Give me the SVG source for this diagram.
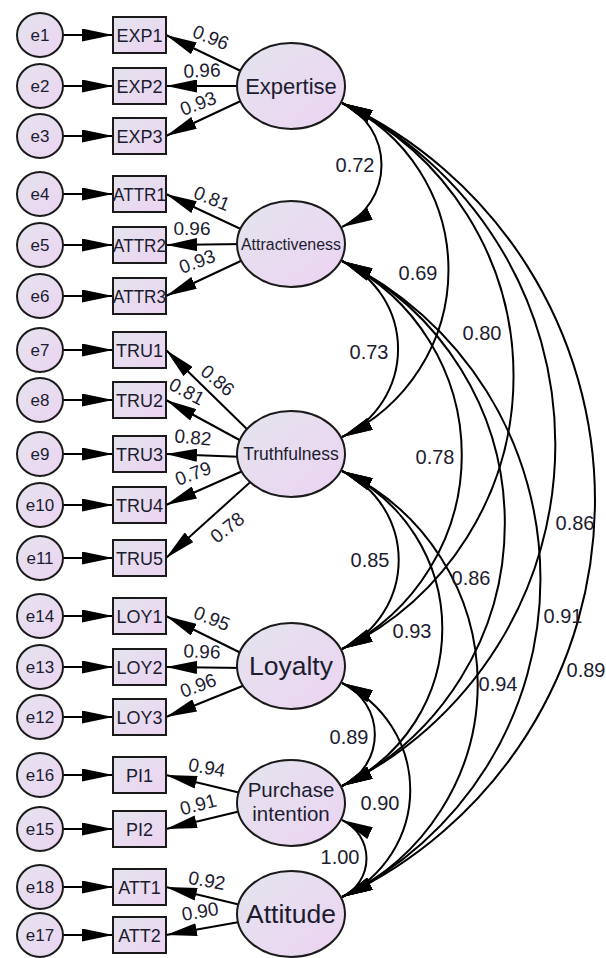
<svg xmlns="http://www.w3.org/2000/svg" width="606" height="958" viewBox="0 0 606 958">
<defs>
<linearGradient id="g" x1="0" y1="0" x2="1" y2="1">
<stop offset="0" stop-color="#e4e4ed"/>
<stop offset="1" stop-color="#ecd3f2"/>
</linearGradient>
<marker id="ah" viewBox="0 0 31 13" refX="31" refY="6.5" markerWidth="31" markerHeight="13" markerUnits="userSpaceOnUse" orient="auto-start-reverse">
<path d="M0,0 L31,6.5 L0,13 z" fill="#000"/>
</marker>
<style>
.n ellipse, .n rect { fill: url(#g); stroke: #1a1a1a; stroke-width: 2; }
.c path { stroke: #000; stroke-width: 2; fill: none; }
.c .l { marker-end: url(#ah); }
.c .a { marker-start: url(#ah); marker-end: url(#ah); }
text { font-family: "Liberation Sans", Arial, sans-serif; fill: #1c1c30; text-anchor: middle; }
.et { font-size: 17px; }
.bt { font-size: 18px; }
.lb { font-size: 19px; }
.cv { font-size: 20px; }
</style>
</defs>
<rect width="606" height="958" fill="#fff"/>

<g id="connectors" class="c">
<!-- error to indicator -->
<path class="l" d="M63 35 L113 35"/>
<path class="l" d="M63 86 L113 86"/>
<path class="l" d="M63 136 L113 136"/>
<path class="l" d="M63 194 L113 194"/>
<path class="l" d="M63 245 L113 245"/>
<path class="l" d="M63 296 L113 296"/>
<path class="l" d="M63 350 L113 350"/>
<path class="l" d="M63 400 L113 400"/>
<path class="l" d="M63 454 L113 454"/>
<path class="l" d="M63 505 L113 505"/>
<path class="l" d="M63 558 L113 558"/>
<path class="l" d="M63 616 L113 616"/>
<path class="l" d="M63 667 L113 667"/>
<path class="l" d="M63 717 L113 717"/>
<path class="l" d="M63 775 L113 775"/>
<path class="l" d="M63 829 L113 829"/>
<path class="l" d="M63 887 L113 887"/>
<path class="l" d="M63 935 L113 935"/>
<!-- loadings -->
<path class="l" d="M245 73 L166 35"/>
<path class="l" d="M245 86 L166 86"/>
<path class="l" d="M245 99 L166 136"/>
<path class="l" d="M245 231 L166 194"/>
<path class="l" d="M245 244 L166 245"/>
<path class="l" d="M245 259 L166 296"/>
<path class="l" d="M252 434 L166 350"/>
<path class="l" d="M245 443 L166 400"/>
<path class="l" d="M245 457 L166 454"/>
<path class="l" d="M245 470 L166 505"/>
<path class="l" d="M256 477 L166 558"/>
<path class="l" d="M245 655 L166 616"/>
<path class="l" d="M245 668 L166 667"/>
<path class="l" d="M245 685 L166 717"/>
<path class="l" d="M245 794 L166 775"/>
<path class="l" d="M245 810 L166 829"/>
<path class="l" d="M245 906 L166 887"/>
<path class="l" d="M245 921 L166 935"/>
<!-- covariances -->
<path class="a" d="M342 103 A68.4 68.4 0 0 1 342 227"/>
<path class="a" d="M342 103 A184.2 184.2 0 0 1 342 437"/>
<path class="a" d="M342 103 A303 303 0 0 1 342 649"/>
<path class="a" d="M342 103 A380 380 0 0 1 342 786"/>
<path class="a" d="M342 103 A438 438 0 0 1 342 897"/>
<path class="a" d="M342 261 A97.1 97.1 0 0 1 342 437"/>
<path class="a" d="M342 261 A217 217 0 0 1 342 649"/>
<path class="a" d="M342 261 A293 293 0 0 1 342 786"/>
<path class="a" d="M342 261 A354 354 0 0 1 342 897"/>
<path class="a" d="M342 471 A98.2 98.2 0 0 1 342 649"/>
<path class="a" d="M342 471 A173.8 173.8 0 0 1 342 786"/>
<path class="a" d="M342 471 A235 235 0 0 1 342 897"/>
<path class="a" d="M342 683 A56.8 56.8 0 0 1 342 786"/>
<path class="a" d="M342 683 A118 118 0 0 1 342 897"/>
<path class="a" d="M342 820 A42.5 42.5 0 0 1 342 897"/>
</g>

<g id="connector-labels">
<g class="lb">
<text transform="translate(211 37) rotate(22)" y="7">0.96</text>
<text transform="translate(202 70) rotate(-2)" y="7">0.96</text>
<text transform="translate(198 103) rotate(-20)" y="7">0.93</text>
<text transform="translate(212 198) rotate(22)" y="7">0.81</text>
<text transform="translate(192 228)" y="7">0.96</text>
<text transform="translate(197 261) rotate(-20)" y="7">0.93</text>
<text transform="translate(218 380) rotate(40)" y="7">0.86</text>
<text transform="translate(187 391) rotate(28)" y="7">0.81</text>
<text transform="translate(193 437) rotate(5)" y="7">0.82</text>
<text transform="translate(193 473) rotate(-20)" y="7">0.79</text>
<text transform="translate(227 527) rotate(-38)" y="7">0.78</text>
<text transform="translate(212 618) rotate(22)" y="7">0.95</text>
<text transform="translate(202 651) rotate(2)" y="7">0.96</text>
<text transform="translate(198 685) rotate(-20)" y="7">0.96</text>
<text transform="translate(207 767) rotate(10)" y="7">0.94</text>
<text transform="translate(198 804) rotate(-15)" y="7">0.91</text>
<text transform="translate(207 880) rotate(10)" y="7">0.92</text>
<text transform="translate(200 911) rotate(-10)" y="7">0.90</text>
</g>
<g class="cv">
<text x="355" y="172">0.72</text>
<text x="418" y="280">0.69</text>
<text x="482" y="340">0.80</text>
<text x="369" y="359">0.73</text>
<text x="435" y="464">0.78</text>
<text x="575" y="530">0.86</text>
<text x="370" y="567">0.85</text>
<text x="471" y="585">0.86</text>
<text x="412" y="638">0.93</text>
<text x="563" y="623">0.91</text>
<text x="586" y="677">0.89</text>
<text x="498" y="691">0.94</text>
<text x="349" y="744">0.89</text>
<text x="380" y="810">0.90</text>
<text x="340" y="864">1.00</text>
</g>
</g>

<g id="e1" class="n"><ellipse cx="40" cy="35" rx="23" ry="22"/><text class="et" x="40" y="41">e1</text></g>
<g id="e2" class="n"><ellipse cx="40" cy="86" rx="23" ry="22"/><text class="et" x="40" y="92">e2</text></g>
<g id="e3" class="n"><ellipse cx="40" cy="136" rx="23" ry="22"/><text class="et" x="40" y="142">e3</text></g>
<g id="e4" class="n"><ellipse cx="40" cy="194" rx="23" ry="22"/><text class="et" x="40" y="200">e4</text></g>
<g id="e5" class="n"><ellipse cx="40" cy="245" rx="23" ry="22"/><text class="et" x="40" y="251">e5</text></g>
<g id="e6" class="n"><ellipse cx="40" cy="296" rx="23" ry="22"/><text class="et" x="40" y="302">e6</text></g>
<g id="e7" class="n"><ellipse cx="40" cy="350" rx="23" ry="22"/><text class="et" x="40" y="356">e7</text></g>
<g id="e8" class="n"><ellipse cx="40" cy="400" rx="23" ry="22"/><text class="et" x="40" y="406">e8</text></g>
<g id="e9" class="n"><ellipse cx="40" cy="454" rx="23" ry="22"/><text class="et" x="40" y="460">e9</text></g>
<g id="e10" class="n"><ellipse cx="40" cy="505" rx="23" ry="22"/><text class="et" x="40" y="511">e10</text></g>
<g id="e11" class="n"><ellipse cx="40" cy="558" rx="23" ry="22"/><text class="et" x="40" y="564">e11</text></g>
<g id="e14" class="n"><ellipse cx="40" cy="616" rx="23" ry="22"/><text class="et" x="40" y="622">e14</text></g>
<g id="e13" class="n"><ellipse cx="40" cy="667" rx="23" ry="22"/><text class="et" x="40" y="673">e13</text></g>
<g id="e12" class="n"><ellipse cx="40" cy="717" rx="23" ry="22"/><text class="et" x="40" y="723">e12</text></g>
<g id="e16" class="n"><ellipse cx="40" cy="775" rx="23" ry="22"/><text class="et" x="40" y="781">e16</text></g>
<g id="e15" class="n"><ellipse cx="40" cy="829" rx="23" ry="22"/><text class="et" x="40" y="835">e15</text></g>
<g id="e18" class="n"><ellipse cx="40" cy="887" rx="23" ry="22"/><text class="et" x="40" y="893">e18</text></g>
<g id="e17" class="n"><ellipse cx="40" cy="935" rx="23" ry="22"/><text class="et" x="40" y="941">e17</text></g>

<g id="EXP1" class="n"><rect x="113" y="17" width="53" height="36"/><text class="bt" x="139.5" y="41.5">EXP1</text></g>
<g id="EXP2" class="n"><rect x="113" y="68" width="53" height="36"/><text class="bt" x="139.5" y="92.5">EXP2</text></g>
<g id="EXP3" class="n"><rect x="113" y="118" width="53" height="36"/><text class="bt" x="139.5" y="142.5">EXP3</text></g>
<g id="ATTR1" class="n"><rect x="113" y="176" width="53" height="36"/><text class="bt" x="139.5" y="200.5" textLength="53" lengthAdjust="spacingAndGlyphs">ATTR1</text></g>
<g id="ATTR2" class="n"><rect x="113" y="227" width="53" height="36"/><text class="bt" x="139.5" y="251.5" textLength="53" lengthAdjust="spacingAndGlyphs">ATTR2</text></g>
<g id="ATTR3" class="n"><rect x="113" y="278" width="53" height="36"/><text class="bt" x="139.5" y="302.5" textLength="53" lengthAdjust="spacingAndGlyphs">ATTR3</text></g>
<g id="TRU1" class="n"><rect x="113" y="332" width="53" height="36"/><text class="bt" x="139.5" y="356.5">TRU1</text></g>
<g id="TRU2" class="n"><rect x="113" y="382" width="53" height="36"/><text class="bt" x="139.5" y="406.5">TRU2</text></g>
<g id="TRU3" class="n"><rect x="113" y="436" width="53" height="36"/><text class="bt" x="139.5" y="460.5">TRU3</text></g>
<g id="TRU4" class="n"><rect x="113" y="487" width="53" height="36"/><text class="bt" x="139.5" y="511.5">TRU4</text></g>
<g id="TRU5" class="n"><rect x="113" y="540" width="53" height="36"/><text class="bt" x="139.5" y="564.5">TRU5</text></g>
<g id="LOY1" class="n"><rect x="113" y="598" width="53" height="36"/><text class="bt" x="139.5" y="622.5">LOY1</text></g>
<g id="LOY2" class="n"><rect x="113" y="649" width="53" height="36"/><text class="bt" x="139.5" y="673.5">LOY2</text></g>
<g id="LOY3" class="n"><rect x="113" y="699" width="53" height="36"/><text class="bt" x="139.5" y="723.5">LOY3</text></g>
<g id="PI1" class="n"><rect x="113" y="757" width="53" height="36"/><text class="bt" x="139.5" y="781.5">PI1</text></g>
<g id="PI2" class="n"><rect x="113" y="811" width="53" height="36"/><text class="bt" x="139.5" y="835.5">PI2</text></g>
<g id="ATT1" class="n"><rect x="113" y="869" width="53" height="36"/><text class="bt" x="139.5" y="893.5">ATT1</text></g>
<g id="ATT2" class="n"><rect x="113" y="917" width="53" height="36"/><text class="bt" x="139.5" y="941.5">ATT2</text></g>

<g id="Expertise" class="n"><ellipse cx="291" cy="86" rx="54" ry="43"/><text x="291" y="94" font-size="22">Expertise</text></g>
<g id="Attractiveness" class="n"><ellipse cx="291" cy="244" rx="54" ry="43"/><text x="291" y="250" font-size="16" textLength="100" lengthAdjust="spacingAndGlyphs">Attractiveness</text></g>
<g id="Truthfulness" class="n"><ellipse cx="291" cy="454" rx="54" ry="43"/><text x="291" y="460" font-size="17.5">Truthfulness</text></g>
<g id="Loyalty" class="n"><ellipse cx="291" cy="666" rx="54" ry="43"/><text x="291" y="675" font-size="26.5">Loyalty</text></g>
<g id="PurchaseIntention" class="n"><ellipse cx="291" cy="803" rx="54" ry="43"/><text x="291" y="797" font-size="20.5">Purchase</text><text x="291" y="821" font-size="20.5">intention</text></g>
<g id="Attitude" class="n"><ellipse cx="291" cy="914" rx="54" ry="43"/><text x="291" y="923" font-size="26.5">Attitude</text></g>
</svg>
